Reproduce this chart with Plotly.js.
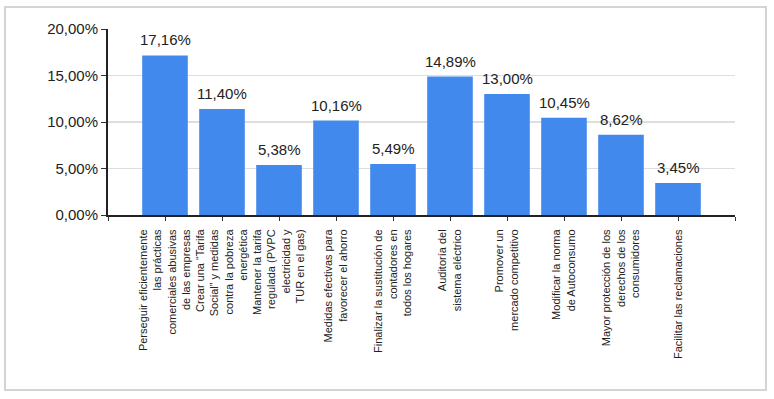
<!DOCTYPE html>
<html>
<head>
<meta charset="utf-8">
<script src="https://cdn.plot.ly/plotly-3.0.1.min.js"></script>
<style>
  html, body { margin: 0; padding: 0; background: #fff; }
  #wrap { position: relative; width: 774px; height: 399px; }
  #frame { position: absolute; left: 4px; top: 6px; width: 759px; height: 381px; border: 2px solid #d4d4d4; pointer-events: none; }
  #chart { position: absolute; left: 0; top: 0; width: 774px; height: 399px; }
</style>
</head>
<body>
<div id="wrap">
  <div id="chart"></div>
  <div id="frame"></div>
</div>
<script>
const categories = [
  "Perseguir eficientemente<br>las prácticas<br>comerciales abusivas<br>de las empresas",
  "Crear una \u201cTarifa<br>Social\u201d y medidas<br>contra la pobreza<br>energética",
  "Mantener la tarifa<br>regulada (PVPC<br>electricidad y<br>TUR en el gas)",
  "Medidas efectivas para<br>favorecer el ahorro",
  "Finalizar la sustitución de<br>contadores en<br>todos los hogares",
  "Auditoría del<br>sistema eléctrico",
  "Promover un<br>mercado competitivo",
  "Modificar la norma<br>de Autoconsumo",
  "Mayor protección de los<br>derechos de los<br>consumidores",
  "Facilitar las reclamaciones"
];
const values = [17.16, 11.40, 5.38, 10.16, 5.49, 14.89, 13.00, 10.45, 8.62, 3.45];
const yTicks = [0, 5, 10, 15, 20];

const fmt = v => v.toFixed(2).replace('.', ',') + '%';
const xPos = categories.map((c, i) => i);
const tickvals = [-1].concat(xPos, [categories.length]);
const ticktext = [""].concat(categories, [""]);
const FONT = 'Liberation Sans, Arial, sans-serif';

const trace = {
  type: 'bar',
  x: xPos,
  y: values,
  width: 0.8,
  marker: { color: '#4189ec' },
  hoverinfo: 'none'
};

const annotations = values.map((v, i) => ({
  x: i, y: v, xref: 'x', yref: 'y',
  text: fmt(v),
  showarrow: false,
  yanchor: 'bottom',
  yshift: 5,
  font: { family: FONT, size: 15, color: '#222' }
}));

const layout = {
  width: 774,
  height: 399,
  margin: { l: 108, r: 39, t: 29, b: 184 },
  paper_bgcolor: '#fff',
  plot_bgcolor: '#fff',
  showlegend: false,
  font: { family: FONT, color: '#222' },
  annotations: annotations,
  xaxis: {
    range: [-1, categories.length],
    tickmode: 'array',
    tickvals: tickvals,
    ticktext: ticktext,
    tickangle: -90,
    ticks: 'outside',
    ticklen: 4,
    ticklabelstandoff: 4,
    tickcolor: '#333',
    tickfont: { size: 11, color: '#222' },
    showline: true,
    linecolor: '#222',
    linewidth: 2,
    showgrid: false,
    zeroline: false,
    fixedrange: true
  },
  yaxis: {
    range: [0, 20],
    tickmode: 'array',
    tickvals: yTicks,
    ticktext: yTicks.map(fmt),
    ticks: 'outside',
    ticklen: 5,
    tickcolor: '#333',
    tickfont: { size: 15, color: '#222' },
    showline: true,
    linecolor: '#222',
    linewidth: 2,
    showgrid: true,
    gridcolor: '#dedede',
    gridwidth: 1.5,
    zeroline: false,
    fixedrange: true
  }
};

Plotly.newPlot('chart', [trace], layout, { displayModeBar: false, staticPlot: true });
</script>
</body>
</html>
